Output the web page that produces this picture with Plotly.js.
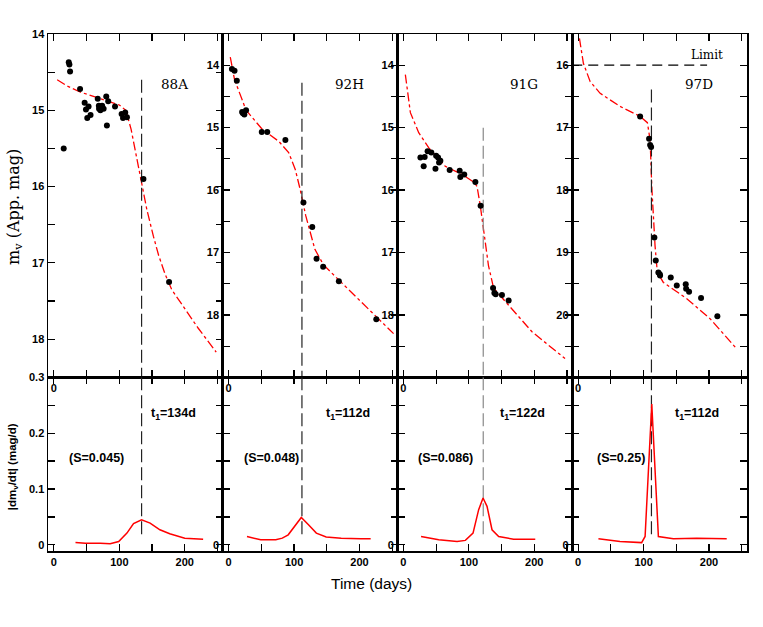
<!DOCTYPE html>
<html>
<head>
<meta charset="utf-8">
<script src="https://cdn.plot.ly/plotly-3.0.1.min.js"></script>
<style>
  body { margin: 0; padding: 0; background: #fff; }
  #graph { width: 763px; height: 627px; }
</style>
</head>
<body>
<div id="graph"></div>
<script>
// supernova names, transition times and steepness
var names = ['88A', '92H', '91G', '97D'];
var tCrit = [134, 112, 122, 112];
var sVal = ['0.045', '0.048', '0.086', '0.25'];

// observed magnitudes
var obsT88A = [15, 22.7, 23.7, 24.7, 40, 47, 49, 53, 51, 56, 67, 68.7, 69, 73.7, 71, 76, 80, 83, 81, 93.4, 103.5, 105.6, 109, 111.6, 136.8, 176];
var obsM88A = [15.5, 14.37, 14.4, 14.49, 14.72, 14.9, 14.99, 14.95, 15.1, 15.06, 14.85, 14.94, 14.98, 14.94, 15.0, 14.98, 14.82, 14.88, 15.2, 14.95, 15.05, 15.1, 15.03, 15.09, 15.9, 17.25];
var obsT92H = [5, 9, 12.5, 20.6, 21.8, 24, 26.6, 50.6, 59, 86.7, 114.3, 127.8, 134.3, 144.4, 168.4, 225.6];
var obsM92H = [14.06, 14.09, 14.25, 14.75, 14.77, 14.79, 14.72, 15.07, 15.07, 15.2, 16.2, 16.59, 17.1, 17.23, 17.46, 18.07];
var obsT91G = [26, 32.5, 31, 37, 42.7, 50, 53, 56.5, 54.5, 49, 70.7, 86, 93, 87, 110, 118, 137, 139, 141, 150.6, 160.8];
var obsM91G = [15.48, 15.47, 15.62, 15.38, 15.4, 15.45, 15.48, 15.53, 15.56, 15.66, 15.68, 15.69, 15.75, 15.79, 15.87, 16.25, 17.57, 17.65, 17.67, 17.68, 17.77];
var obsT97D = [94.7, 108.4, 110, 111.5, 116.5, 118.6, 122.6, 125.2, 124.7, 141.5, 150.7, 164.4, 165, 169.5, 187.8, 212.7];
var obsM97D = [16.82, 17.18, 17.28, 17.31, 18.76, 19.13, 19.32, 19.37, 19.35, 19.4, 19.53, 19.51, 19.58, 19.63, 19.73, 20.02];

// model light curves
var fitT88A = [5, 20, 40, 60, 80, 100, 110, 118, 126, 134, 142, 152, 160, 170, 180, 200, 220, 248];
var fitM88A = [14.6, 14.68, 14.76, 14.82, 14.87, 14.93, 15.0, 15.25, 15.6, 15.95, 16.3, 16.65, 16.9, 17.15, 17.35, 17.6, 17.85, 18.17];
var fitT92H = [2.5, 9, 26.6, 51.6, 76.7, 91.7, 101.8, 109.3, 117.8, 131.8, 145, 177, 222, 252];
var fitM92H = [13.87, 14.23, 14.72, 15.03, 15.22, 15.4, 15.67, 15.99, 16.41, 16.95, 17.2, 17.53, 18.0, 18.3];
var fitT91G = [3, 10.7, 23.4, 38.6, 64, 89.6, 107.3, 112.5, 117.5, 122.6, 130, 137.8, 166, 196.5, 247];
var fitM91G = [14.15, 14.76, 15.08, 15.32, 15.62, 15.75, 15.87, 15.94, 16.25, 16.63, 17.21, 17.57, 17.9, 18.27, 18.7];
var fitT97D = [2, 8, 18.3, 33.6, 64, 94.7, 105.8, 110, 112.5, 115, 117.5, 121, 130.2, 166, 201.5, 242];
var fitM97D = [15.57, 15.97, 16.26, 16.45, 16.66, 16.82, 16.92, 17.2, 17.94, 18.47, 18.89, 19.32, 19.48, 19.74, 20.06, 20.54];

// decline rates |dm/dt|
var rateT88A = [33, 48, 71, 86, 99, 111.6, 121.7, 134, 147, 162, 177, 200, 228];
var rateV88A = [0.004, 0.003, 0.003, 0.002, 0.006, 0.021, 0.038, 0.045, 0.039, 0.027, 0.02, 0.012, 0.01];
var rateT92H = [28, 49, 72, 82, 91, 111, 122, 134, 149, 172, 202, 217];
var rateV92H = [0.015, 0.009, 0.009, 0.012, 0.018, 0.049, 0.036, 0.021, 0.014, 0.012, 0.011, 0.011];
var rateT91G = [27, 54, 82, 94.7, 106.4, 115, 121.7, 127.8, 135.4, 145.6, 168.4, 201.5];
var rateV91G = [0.015, 0.009, 0.006, 0.008, 0.021, 0.063, 0.084, 0.069, 0.027, 0.015, 0.01, 0.01];
var rateT97D = [31, 64, 97, 102.3, 112.5, 122.6, 145.5, 181, 227];
var rateV97D = [0.011, 0.006, 0.004, 0.015, 0.252, 0.015, 0.011, 0.012, 0.011];

// axis ranges (magnitude axes reversed) and tick labels
var magRange = [[18.5, 14], [19, 13.5], [19, 13.5], [21, 15.5]];
var magTicks = [[14, 15, 16, 17, 18], [14, 15, 16, 17, 18], [14, 15, 16, 17, 18], [16, 17, 18, 19, 20]];
var dashTop = [14.6, 14.28, 15.0, 16.39];
var limitMag = 16;
var limitEnd = 197;

var obsT = [obsT88A, obsT92H, obsT91G, obsT97D];
var obsM = [obsM88A, obsM92H, obsM91G, obsM97D];
var fitT = [fitT88A, fitT92H, fitT91G, fitT97D];
var fitM = [fitM88A, fitM92H, fitM91G, fitM97D];
var rateT = [rateT88A, rateT92H, rateT91G, rateT97D];
var rateV = [rateV88A, rateV92H, rateV91G, rateV97D];

var tickFont = {family: 'Liberation Sans, Arial, sans-serif', size: 11, color: 'black', weight: 'bold'};
var labelFont = {family: 'Liberation Sans, Arial, sans-serif', size: 12.5, color: 'black', weight: 'bold'};
var split = 0.3359;
var dashCol = ['#222', '#222', '#888', '#222'];

function baseAxis() {
    return {
        showline: true, linecolor: 'black', linewidth: 1.5, mirror: 'ticks',
        ticks: 'inside', ticklen: 7, tickwidth: 1.2, tickcolor: 'black',
        showgrid: false, zeroline: false, tickfont: tickFont, fixedrange: true
    };
}

function halfSteps(lo, hi, step) {
    var out = [];
    for (var v = lo; v <= hi + 1e-9; v += step) out.push(Math.round(v * 1000) / 1000);
    return out;
}

var traces = [];
var layout = {
    width: 763, height: 627,
    margin: {l: 48, r: 16, t: 34, b: 76},
    paper_bgcolor: 'white', plot_bgcolor: 'white',
    showlegend: false,
    annotations: []
};

for (var i = 0; i < 4; i++) {
    var xt = 'x' + (i + 1), yt = 'y' + (i + 1);
    var xb = 'x' + (i + 5), yb = 'y' + (i + 5);

    // light curve panel
    traces.push({x: fitT[i], y: fitM[i], xaxis: xt, yaxis: yt, mode: 'lines',
        line: {color: '#ff0000', width: 1.3, dash: 'dashdot'}});
    traces.push({x: [tCrit[i], tCrit[i]], y: [dashTop[i], magRange[i][0]], xaxis: xt, yaxis: yt, mode: 'lines',
        line: {color: dashCol[i], width: 1.2, dash: '13px,5px'}});
    traces.push({x: obsT[i], y: obsM[i], xaxis: xt, yaxis: yt, mode: 'markers',
        marker: {color: 'black', size: 6}});

    // rate panel
    traces.push({x: [tCrit[i], tCrit[i]], y: [0.3, 0.015], xaxis: xb, yaxis: yb, mode: 'lines',
        line: {color: dashCol[i], width: 1.2, dash: '13px,5px'}});
    traces.push({x: rateT[i], y: rateV[i], xaxis: xb, yaxis: yb, mode: 'lines',
        line: {color: '#ff0000', width: 1.5}});

    var dom = [i / 4, (i + 1) / 4];
    var tv = halfSteps(0, 250, 50);

    var axXt = baseAxis();
    axXt.domain = dom; axXt.anchor = yt; axXt.range = [-9, 258];
    axXt.tickmode = 'array'; axXt.tickvals = tv;
    axXt.ticktext = tv.map(function (v) { return v === 0 ? '0' : ' '; });
    layout['xaxis' + (i + 1)] = axXt;

    var yv = halfSteps(magRange[i][1], magRange[i][0], 0.5);
    var ticks = magTicks[i];
    var axYt = baseAxis();
    axYt.domain = [split, 1]; axYt.anchor = xt; axYt.range = magRange[i];
    axYt.tickmode = 'array'; axYt.tickvals = yv;
    axYt.ticktext = yv.map(function (v) { return ticks.indexOf(v) >= 0 ? String(v) : ' '; });
    layout['yaxis' + (i + 1)] = axYt;

    var axXb = baseAxis();
    axXb.domain = dom; axXb.anchor = yb; axXb.range = [-9, 258];
    axXb.tickmode = 'array'; axXb.tickvals = tv;
    axXb.ticktext = tv.map(function (v) { return v % 100 === 0 ? String(v) : ' '; });
    layout['xaxis' + (i + 5)] = axXb;

    var rv = halfSteps(0, 0.3, 0.05);
    var first = (i === 0);
    var axYb = baseAxis();
    axYb.domain = [0, split]; axYb.anchor = xb; axYb.range = [-0.011, 0.3];
    axYb.tickmode = 'array'; axYb.tickvals = rv;
    axYb.ticktext = rv.map(function (v) {
        if (v === 0) return '0';
        if (first && Math.abs(v * 10 - Math.round(v * 10)) < 1e-6) return String(v);
        return ' ';
    });
    layout['yaxis' + (i + 5)] = axYb;

    layout.annotations.push({xref: xt, yref: yt, x: 185, y: magRange[i][1] + (i === 0 ? 0.65 : 0.8),
        text: names[i], showarrow: false,
        font: {family: 'DejaVu Serif, serif', size: 13.5, color: 'black'}});
    layout.annotations.push({xref: xb, yref: yb, x: 182, y: 0.234,
        text: 't<sub>1</sub>=' + tCrit[i] + 'd', showarrow: false, font: labelFont});
    layout.annotations.push({xref: xb, yref: yb, x: 65, y: 0.155,
        text: '(S=' + sVal[i] + ')', showarrow: false, font: labelFont});
}

// detection limit in the 97D panel
traces.push({x: [-9, limitEnd], y: [limitMag, limitMag], xaxis: 'x4', yaxis: 'y4', mode: 'lines',
    line: {color: 'black', width: 1.2, dash: '10px,6px'}});
layout.annotations.push({xref: 'x4', yref: 'y4', x: 197, y: 15.83, text: 'Limit', showarrow: false,
    font: {family: 'DejaVu Serif, serif', size: 12, color: 'black'}});

// axis titles
layout.annotations.push({xref: 'paper', yref: 'paper', x: -0.049, y: 0.665, textangle: -90,
    xanchor: 'center', yanchor: 'middle',
    text: 'm<sub>v</sub> (App. mag)', showarrow: false,
    font: {family: 'DejaVu Serif, serif', size: 16, color: 'black'}});
layout.annotations.push({xref: 'paper', yref: 'paper', x: -0.05, y: 0.162, textangle: -90,
    xanchor: 'center', yanchor: 'middle',
    text: '|dm<sub>v</sub>/dt| (mag/d)', showarrow: false,
    font: {family: 'Liberation Sans, Arial, sans-serif', size: 11.5, color: 'black', weight: 'bold'}});
layout.annotations.push({xref: 'paper', yref: 'paper', x: 0.463, y: -0.043, yanchor: 'top',
    text: 'Time (days)', showarrow: false,
    font: {family: 'Liberation Sans, Arial, sans-serif', size: 15.5, color: 'black'}});

Plotly.newPlot('graph', traces, layout, {displayModeBar: false, staticPlot: true});
</script>
</body>
</html>
